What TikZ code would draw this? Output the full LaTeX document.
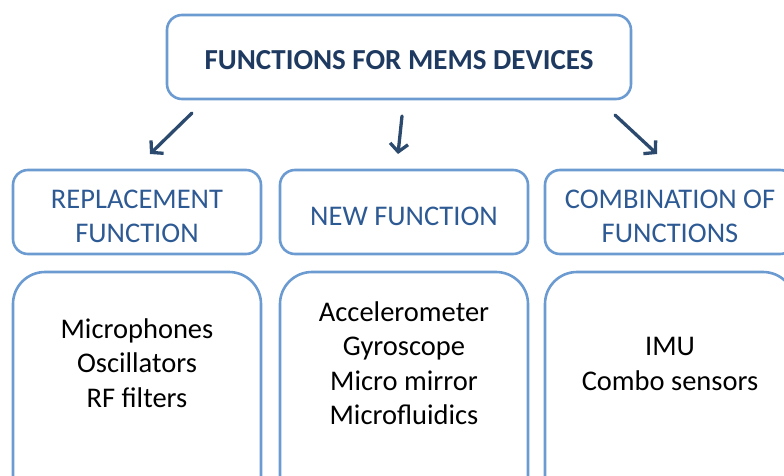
\documentclass[tikz,border=0pt]{standalone}
\usepackage{fontspec}
\setmainfont{Carlito}
\usetikzlibrary{arrows.meta}
\definecolor{bord}{HTML}{6B9BD1}
\definecolor{titlec}{HTML}{1F3A60}
\definecolor{labc}{HTML}{2E5A94}
\definecolor{arrc}{HTML}{2C4A6E}
\tikzset{
  box/.style={draw=bord, line width=2.6pt, rounded corners=15pt, inner sep=0pt, minimum height=84pt},
  bigbox/.style={draw=bord, line width=2.6pt, rounded corners=32pt, inner sep=0pt, minimum height=240pt},
  lab/.style={text=labc, align=center, yshift=-4pt, font=\fontsize{28.5}{34}\selectfont},
  ttl/.style={text=titlec, yshift=-3.5pt, font=\fontsize{29}{34}\selectfont\bfseries},
  body/.style={text=black, align=center, font=\fontsize{28.5}{34.5}\selectfont},
  arr/.style={draw=arrc, line width=3.3pt, line cap=round, -{Straight Barb[length=8pt,width=18pt,line width=3.3pt]}}
}
\begin{document}
\begin{tikzpicture}[x=1pt,y=-1pt]
\useasboundingbox (0,0) rectangle (784,476);
\clip (0,0) rectangle (784,476);
\node[box, minimum width=464pt, label={[ttl]center:FUNCTIONS FOR MEMS DEVICES}] (top) at (399,57) {};
\node[box, minimum width=248pt, label={[lab]center:{REPLACEMENT\\FUNCTION}}] (m1) at (137,212) {};
\node[box, minimum width=248pt, label={[lab]center:{NEW FUNCTION}}] (m2) at (404,212) {};
\node[box, minimum width=250pt, label={[lab]center:{COMBINATION OF\\FUNCTIONS}}] (m3) at (670,212) {};
\node[bigbox, minimum width=248pt] (b1) at (137,392) {};
\node[bigbox, minimum width=248pt] (b2) at (404,392) {};
\node[bigbox, minimum width=250pt] (b3) at (670,392) {};
\node[body] (t1) at (137,363) {Microphones\\Oscillators\\RF filters};
\node[body] (t2) at (404,363) {Accelerometer\\Gyroscope\\Micro mirror\\Microfluidics};
\node[body] (t3) at (670,364) {IMU\\Combo sensors};
\coordinate (a1s) at (192,113); \coordinate (a1e) at (150,154);
\coordinate (a2s) at (402,116); \coordinate (a2e) at (398,154);
\coordinate (a3s) at (615,115); \coordinate (a3e) at (657,154);
\draw[arr] (a1s) -- (a1e);
\draw[arr] (a2s) -- (a2e);
\draw[arr] (a3s) -- (a3e);
\end{tikzpicture}
\end{document}
